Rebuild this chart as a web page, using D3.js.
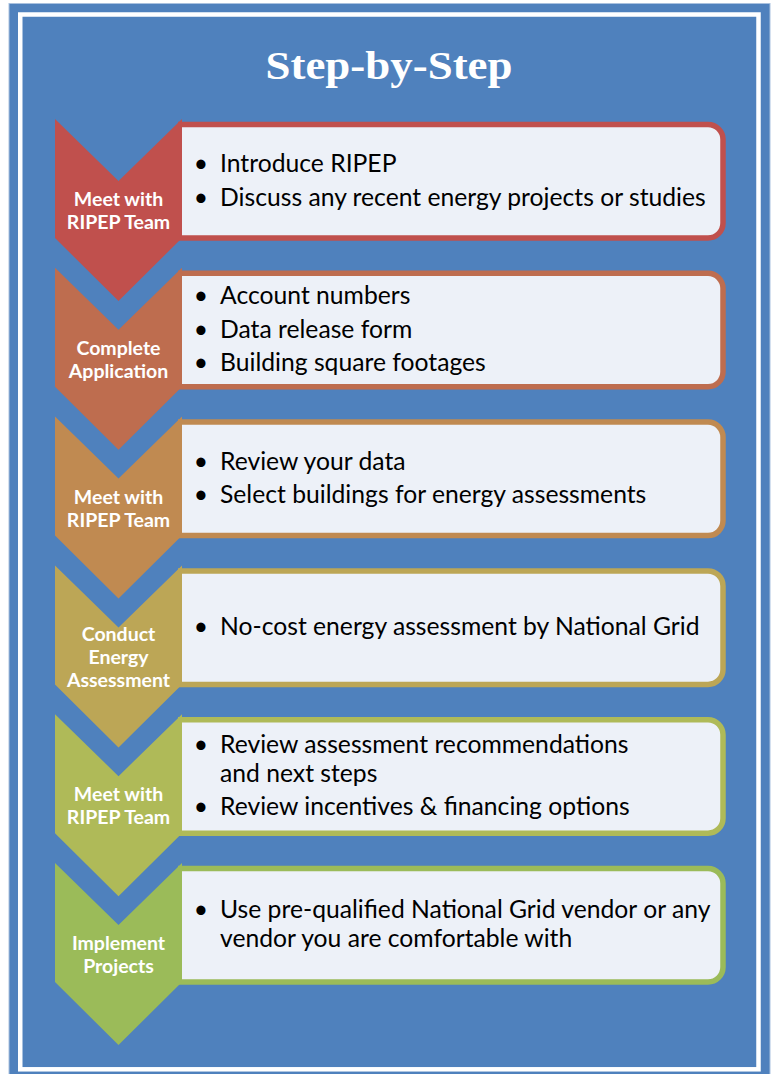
<!DOCTYPE html>
<html>
<head>
<meta charset="utf-8">
<script src="https://cdn.jsdelivr.net/npm/d3@7"></script>
<style>
	html, body { margin: 0; padding: 0; background: #fff; }
	svg { display: block; }
</style>
</head>
<body>
<svg width="773" height="1074"></svg>
<script>
const title = 'Step-by-Step'

const stepLabels = [
	['Meet with', 'RIPEP Team'],
	['Complete', 'Application'],
	['Meet with', 'RIPEP Team'],
	['Conduct', 'Energy', 'Assessment'],
	['Meet with', 'RIPEP Team'],
	['Implement', 'Projects']
]

const stepColors = ['#C0504D', '#BE6D4F', '#C08A51', '#BCA656', '#AFBA58', '#9BBB59']

// each step: list of bullets, each bullet: its wrapped lines
const stepItems = [
	[['Introduce RIPEP'], ['Discuss any recent energy projects or studies']],
	[['Account numbers'], ['Data release form'], ['Building square footages']],
	[['Review your data'], ['Select buildings for energy assessments']],
	[['No-cost energy assessment by National Grid']],
	[['Review assessment recommendations', 'and next steps'], ['Review incentives & financing options']],
	[['Use pre-qualified National Grid vendor or any', 'vendor you are comfortable with']]
]

let svg = d3.select('svg')

svg.append('rect')
	.attr('x', 9).attr('y', 3.5)
	.attr('width', 761).attr('height', 1072)
	.attr('fill', '#4F81BD')
	.attr('stroke', '#A9C1DF')
	.attr('stroke-width', 1)

svg.append('rect')
	.attr('x', 20.25).attr('y', 14.5)
	.attr('width', 738.25).attr('height', 1054.8)
	.attr('fill', 'none')
	.attr('stroke', '#fff')
	.attr('stroke-width', 4.5)

svg.append('text')
	.attr('x', 389).attr('y', 79)
	.attr('text-anchor', 'middle')
	.attr('font-family', 'Liberation Serif, serif')
	.attr('font-weight', 'bold')
	.attr('font-size', 41)
	.attr('fill', '#fff')
	.attr('textLength', 247)
	.attr('lengthAdjust', 'spacingAndGlyphs')
	.text(title)

let yScale = d3.scaleLinear()
	.domain([0, stepLabels.length - 1])
	.range([119, 863])

let xL = 55, xR = 182, xC = (xL + xR) / 2
let notch = 62, side = 119
let boxRight = 723, r = 15

let steps = svg.append('g').attr('id', 'steps')
	.selectAll('g')
	.data(stepLabels.map((d, i) => ({ label: d, color: stepColors[i], items: stepItems[i], t: yScale(i) })))
	.join('g')

// boxes
steps.append('path')
	.attr('d', d => {
		let y0 = d.t + 5.5, y1 = d.t + side
		return `M${xR - 4},${y0} H${boxRight - r} A${r},${r} 0 0 1 ${boxRight},${y0 + r} V${y1 - r} A${r},${r} 0 0 1 ${boxRight - r},${y1} H${xR - 4}`
	})
	.attr('fill', '#EDF1F8')
	.attr('stroke', d => d.color)
	.attr('stroke-width', 5.5)

// chevrons
steps.append('path')
	.attr('d', d => {
		let t = d.t
		return d3.line()([
			[xL, t], [xC, t + notch], [xR, t], [xR, t + side], [xC, t + side + notch + 1], [xL, t + side]
		]) + 'Z'
	})
	.attr('fill', d => d.color)

steps.each(function (d) {
	let g = d3.select(this)
	let cy = d.t + 92
	let lh = 23.3
	let y0 = cy - (d.label.length - 1) * lh / 2 + 6.6
	g.selectAll('text.label')
		.data(d.label)
		.join('text')
		.attr('class', 'label')
		.attr('x', xC)
		.attr('y', (s, j) => y0 + j * lh)
		.attr('text-anchor', 'middle')
		.attr('font-family', 'Lato, sans-serif')
		.attr('font-weight', 'bold')
		.attr('font-size', 19.5)
		.attr('fill', '#fff')
		.text(s => s)

	// bullet lines
	let lines = []
	let y = 0
	d.items.forEach((item, k) => {
		if (k > 0) y += 33.5
		item.forEach((s, j) => {
			if (j > 0) y += 29
			lines.push({ text: s, y: y, bullet: j === 0 })
		})
	})
	let cyBox = d.t + 62
	let base = cyBox - y / 2 + 7.9

	g.selectAll('text.bullet')
		.data(lines.filter(l => l.bullet))
		.join('text')
		.attr('class', 'bullet')
		.attr('x', 201)
		.attr('y', l => base + l.y)
		.attr('text-anchor', 'middle')
		.attr('font-family', 'Lato, sans-serif')
		.attr('font-size', 24.7)
		.attr('fill', '#000')
		.text('•')

	g.selectAll('text.item')
		.data(lines)
		.join('text')
		.attr('class', 'item')
		.attr('x', 220)
		.attr('y', l => base + l.y)
		.attr('font-family', 'Lato, sans-serif')
		.attr('font-size', 24.7)
		.attr('fill', '#000')
		.text(l => l.text)
})
</script>
</body>
</html>
